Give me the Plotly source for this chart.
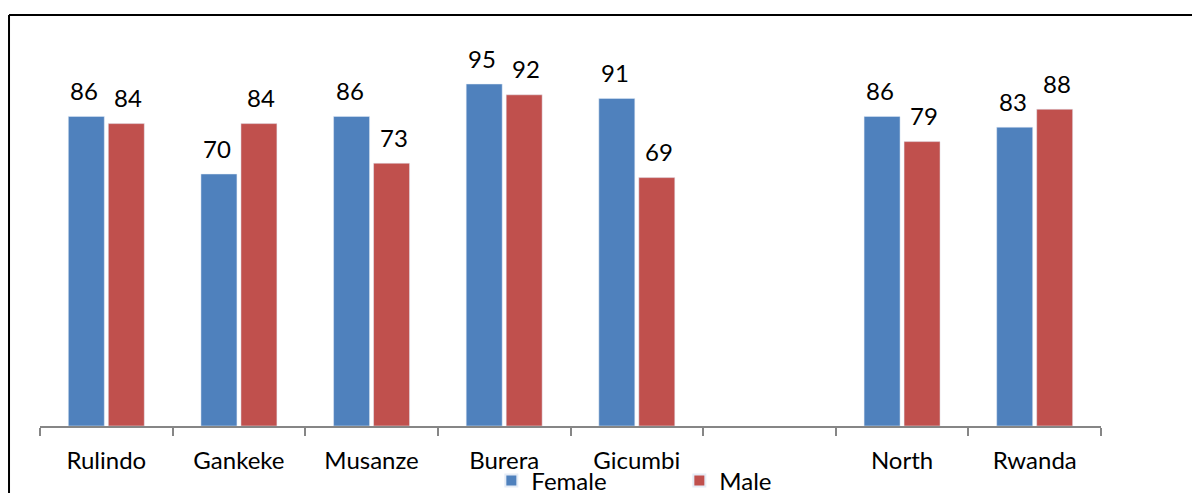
import plotly.graph_objects as go

districts = ["Rulindo", "Gankeke", "Musanze", "Burera", "Gicumbi", " ", "North", "Rwanda"]
female = [86, 70, 86, 95, 91, None, 86, 83]
male = [84, 84, 73, 92, 69, None, 79, 88]

blue = "#4F81BD"
red = "#C0504D"
font = "Lato, 'Open Sans', sans-serif"

fig = go.Figure()
fig.add_trace(go.Bar(x=districts, y=female, name="Female", marker_color=blue))
fig.add_trace(go.Bar(x=districts, y=male, name="Male", marker_color=red))

# value labels above the bars
for vals, shift in [(female, -22), (male, 22)]:
    for cat, v in zip(districts, vals):
        if v is None:
            continue
        fig.add_annotation(x=cat, y=v, text=str(v), showarrow=False,
                           xshift=shift, yshift=26, yanchor="middle",
                           font=dict(size=24, color="black", family=font))

# outer frame (left and top edges visible)
fig.add_shape(type="line", xref="paper", yref="paper",
              x0=-0.0292, x1=-0.0292, y0=1.1417, y1=-0.25,
              line=dict(color="black", width=2))
fig.add_shape(type="line", xref="paper", yref="paper",
              x0=-0.0292, x1=1.2, y0=1.1417, y1=1.1417,
              line=dict(color="black", width=2))

fig.update_layout(
    width=1200, height=493,
    margin=dict(l=32, r=107, t=58, b=75, autoexpand=False),
    plot_bgcolor="white", paper_bgcolor="white",
    barmode="group", bargap=0.397, bargroupgap=0.1,
    font=dict(family=font, size=24, color="black"),
    showlegend=True,
    legend=dict(orientation="h", x=0.4254, xanchor="left", y=-0.09, yanchor="top",
                entrywidth=143, entrywidthmode="pixels", bgcolor="rgba(0,0,0,0)",
                font=dict(size=24), itemsizing="constant"),
    xaxis=dict(showline=True, linecolor="#868686", linewidth=1.5,
               ticks="outside", ticklen=8, tickcolor="#868686", tickwidth=1.5,
               tickson="boundaries", ticklabelstandoff=12,
               tickfont=dict(size=24), showgrid=False),
    yaxis=dict(visible=False, range=[0, 100]),
)

fig.write_html("out.html")
